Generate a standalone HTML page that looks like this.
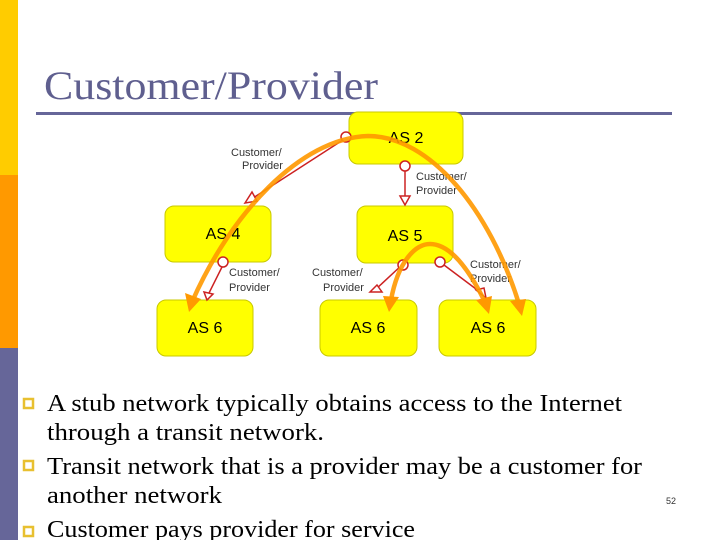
<!DOCTYPE html>
<html><head><meta charset="utf-8"><style>
html,body{margin:0;padding:0;background:#fff;width:720px;height:540px;overflow:hidden}
</style></head><body>
<svg width="720" height="540" viewBox="0 0 720 540" xmlns="http://www.w3.org/2000/svg">
<rect x="0" y="0" width="18" height="175" fill="#FFCC00"/>
<rect x="0" y="175" width="18" height="173" fill="#FF9900"/>
<rect x="0" y="348" width="18" height="192" fill="#666699"/>
<text x="44" y="99" font-family="Liberation Serif, serif" font-size="40" fill="#5F5F8F" textLength="334" lengthAdjust="spacingAndGlyphs">Customer/Provider</text>
<rect x="36" y="112" width="636" height="3" fill="#666699"/>
<g fill="#FFFF00" stroke="#c8c800" stroke-width="1">
<rect x="349" y="112" width="114" height="52" rx="9"/>
<rect x="165" y="206" width="106" height="56" rx="9"/>
<rect x="357" y="206" width="96" height="57" rx="9"/>
<rect x="157" y="300" width="96" height="56" rx="9"/>
<rect x="320" y="300" width="97" height="56" rx="9"/>
<rect x="439" y="300" width="97" height="56" rx="9"/>
</g>
<g font-family="Liberation Sans, sans-serif" font-size="16" fill="#000" text-anchor="middle">
<text x="406" y="143">AS 2</text>
<text x="223" y="239">AS 4</text>
<text x="405" y="241">AS 5</text>
<text x="205" y="333">AS 6</text>
<text x="368" y="333">AS 6</text>
<text x="488" y="333">AS 6</text>
</g>
<g font-family="Liberation Sans, sans-serif" font-size="11" fill="#333">
<text x="231" y="156">Customer/</text><text x="242" y="169">Provider</text>
<text x="416" y="180">Customer/</text><text x="416" y="194">Provider</text>
<text x="229" y="276">Customer/</text><text x="229" y="291">Provider</text>
<text x="312" y="276">Customer/</text><text x="323" y="291">Provider</text>
<text x="470" y="268">Customer/</text><text x="470" y="282">Provider</text>
</g>
<g stroke="#CC2222" stroke-width="1.5" fill="none">
<line x1="346" y1="138" x2="250" y2="200"/>
<polygon points="245,203 252,192 257,201" fill="#fff"/>
<line x1="405" y1="170" x2="405" y2="196"/>
<polygon points="400,196 410,196 405,205" fill="#fff"/>
<line x1="223" y1="265" x2="209" y2="293"/>
<polygon points="204,292 213,294 207,300" fill="#fff"/>
<line x1="403" y1="264" x2="375" y2="290"/>
<polygon points="370,292 377,285 382,292" fill="#fff"/>
<line x1="440" y1="262" x2="480" y2="292"/>
<polygon points="476,290 484,288 486,298" fill="#fff"/>
</g>
<g stroke="#CC2222" stroke-width="1.5" fill="#fff">
<circle cx="346" cy="137" r="5"/>
<circle cx="405" cy="166" r="5"/>
<circle cx="223" cy="262" r="5"/>
<circle cx="403" cy="265" r="5"/>
<circle cx="440" cy="262" r="5"/>
</g>
<g stroke="#FF9900" stroke-width="4.5" fill="none" stroke-linecap="round" opacity="0.9">
<path d="M192,302 C230,215 300,138 368,136 C430,136 490,210 519,304"/>
<path d="M391,300 C398,262 415,244 430,244 C450,244 468,268 484,300"/>
</g>
<g fill="#FF9900">
<polygon points="189,312 185,293 201,299"/>
<polygon points="522,316 510,301 526,299"/>
<polygon points="389,312 383,296 399,297"/>
<polygon points="489,314 476,300 492,296"/>
</g>
<g fill="#fff" stroke="#E8C030" stroke-width="2.5">
<rect x="24" y="399" width="9" height="9"/>
<rect x="24" y="461" width="9" height="9"/>
<rect x="24" y="527" width="9" height="9"/>
</g>
<g font-family="Liberation Serif, serif" font-size="24" fill="#000">
<text x="47" y="411" textLength="575" lengthAdjust="spacingAndGlyphs">A stub network typically obtains access to the  Internet</text>
<text x="47" y="440" textLength="277" lengthAdjust="spacingAndGlyphs">through a transit network.</text>
<text x="47" y="474" textLength="595" lengthAdjust="spacingAndGlyphs">Transit network that is a provider may be a customer for</text>
<text x="47" y="503" textLength="175" lengthAdjust="spacingAndGlyphs">another network</text>
<text x="47" y="537" textLength="368" lengthAdjust="spacingAndGlyphs">Customer pays provider for service</text>
</g>
<text x="666" y="504" font-family="Liberation Sans, sans-serif" font-size="9" fill="#333">52</text>
</svg>
</body></html>
